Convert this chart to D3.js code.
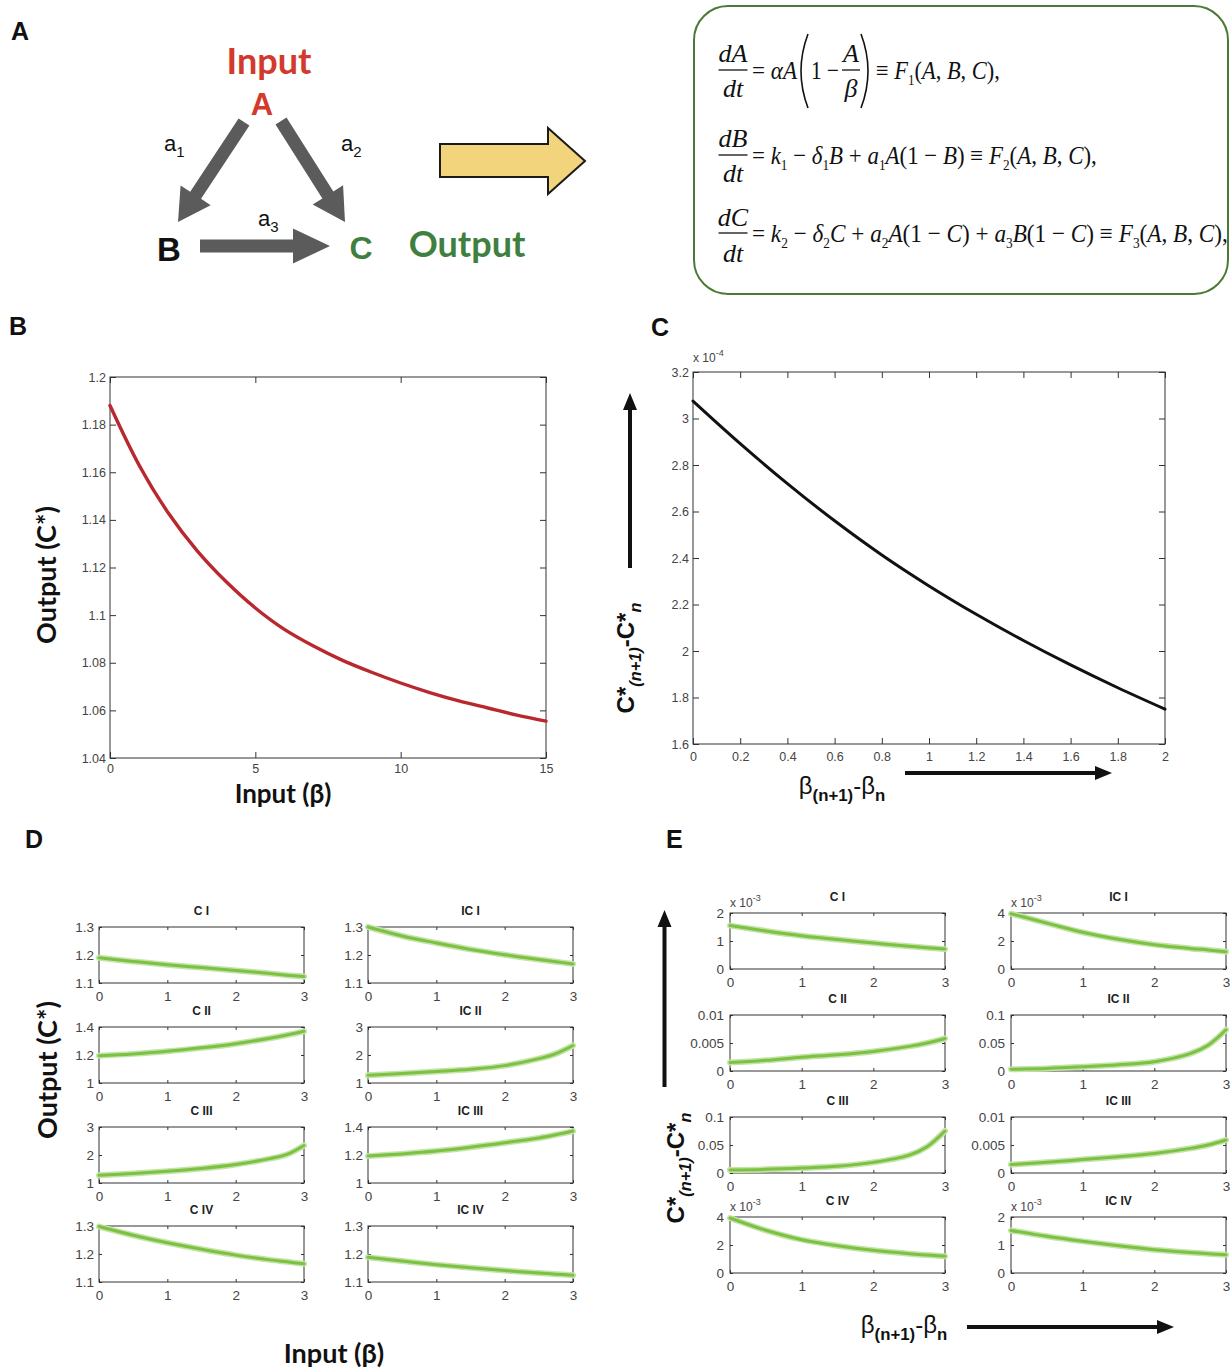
<!DOCTYPE html>
<html lang="en">
<head>
<meta charset="UTF-8">
<title>Input-output response of the feed-forward loop</title>
<script src="https://d3js.org/d3.v7.min.js"></script>
<style>
  body { margin: 0; background: #fff; }
  svg { display: block; }
  .tick-label { font-family: "Liberation Sans", Arial, sans-serif; font-size: 13px; fill: #444; }
  .panel-letter { font-family: "Liberation Sans", Arial, sans-serif; font-weight: bold; font-size: 25px; fill: #111; }
  .axis-title { font-family: Lato, "Open Sans", sans-serif; font-weight: bold; font-size: 27px; fill: #111; }
  .sym-title { font-family: "Liberation Sans", Arial, sans-serif; font-weight: bold; font-size: 24px; fill: #111; }
  .sub-title { font-family: "Liberation Sans", Arial, sans-serif; font-weight: bold; font-size: 12px; fill: #222; }
  .expo { font-family: "Liberation Sans", Arial, sans-serif; font-size: 12px; fill: #444; }
  .eq { font-family: "Liberation Serif", "Times New Roman", serif; font-style: italic; font-size: 26px; fill: #111; }
</style>
</head>
<body>
<svg id="fig" width="1231" height="1370"></svg>
<script>
// ---------- data ----------
// panel B: steady-state output vs input
const bBeta = [0, 1, 2, 3, 4, 5, 6, 7, 8, 9, 10, 11, 12, 13, 14, 15];
const bOut = [1.188, 1.163, 1.143, 1.127, 1.114, 1.103, 1.094, 1.087, 1.081, 1.076, 1.0715, 1.0675, 1.064, 1.061, 1.058, 1.0555];
const bYTicks = [1.04, 1.06, 1.08, 1.1, 1.12, 1.14, 1.16, 1.18, 1.2];
const bYLabels = ["1.04", "1.06", "1.08", "1.1", "1.12", "1.14", "1.16", "1.18", "1.2"];
const bXTicks = [0, 5, 10, 15];

// panel C: sensitivity (x 10^-4)
const cStep = [0, 0.2, 0.4, 0.6, 0.8, 1, 1.2, 1.4, 1.6, 1.8, 2];
const cDiff = [3.075, 2.892, 2.72, 2.56, 2.413, 2.28, 2.158, 2.045, 1.94, 1.842, 1.75];
const cYTicks = [1.6, 1.8, 2, 2.2, 2.4, 2.6, 2.8, 3, 3.2];
const cYLabels = ["1.6", "1.8", "2", "2.2", "2.4", "2.6", "2.8", "3", "3.2"];
const cXTicks = [0, 0.2, 0.4, 0.6, 0.8, 1, 1.2, 1.4, 1.6, 1.8, 2];
const cXLabels = ["0", "0.2", "0.4", "0.6", "0.8", "1", "1.2", "1.4", "1.6", "1.8", "2"];

// panels D / E: eight loop types
const loopNames = ["C I", "IC I", "C II", "IC II", "C III", "IC III", "C IV", "IC IV"];
const subX = [0, 0.5, 1, 1.5, 2, 2.5, 2.75, 3];
const subXTicks = [0, 1, 2, 3];

const dCI   = [1.190, 1.177, 1.165, 1.155, 1.145, 1.134, 1.128, 1.123];
const dICI  = [1.300, 1.268, 1.243, 1.220, 1.201, 1.184, 1.176, 1.168];
const dCII  = [1.195, 1.208, 1.226, 1.251, 1.281, 1.320, 1.343, 1.369];
const dICII = [1.275, 1.34, 1.41, 1.49, 1.62, 1.87, 2.05, 2.34];
const dCIII = [1.275, 1.34, 1.42, 1.52, 1.66, 1.87, 2.02, 2.34];
const dICIII = [1.192, 1.208, 1.228, 1.255, 1.287, 1.322, 1.345, 1.371];
const dCIV  = [1.298, 1.267, 1.240, 1.217, 1.196, 1.179, 1.172, 1.165];
const dICIV = [1.188, 1.175, 1.162, 1.151, 1.141, 1.132, 1.128, 1.124];

const eCI   = [1.55, 1.36, 1.19, 1.05, 0.93, 0.81, 0.76, 0.71];      // x 10^-3
const eICI  = [3.95, 3.28, 2.62, 2.12, 1.74, 1.47, 1.36, 1.24];      // x 10^-3
const eCII  = [0.00153, 0.0019, 0.00245, 0.0029, 0.0035, 0.0044, 0.005, 0.0058];
const eICII = [0.003, 0.0045, 0.0074, 0.011, 0.0166, 0.031, 0.046, 0.0736];
const eCIII = [0.0055, 0.0065, 0.0088, 0.012, 0.019, 0.032, 0.047, 0.075];
const eICIII = [0.0015, 0.0019, 0.0024, 0.0029, 0.0035, 0.0044, 0.005, 0.0059];
const eCIV  = [3.93, 3.05, 2.38, 1.95, 1.62, 1.38, 1.28, 1.19];      // x 10^-3
const eICIV = [1.52, 1.31, 1.13, 0.97, 0.83, 0.73, 0.69, 0.65];      // x 10^-3

// y axis tick sets for the small panels
const dTicks = {
  "C I": [[1.1, 1.2, 1.3], ["1.1", "1.2", "1.3"]],
  "IC I": [[1.1, 1.2, 1.3], ["1.1", "1.2", "1.3"]],
  "C II": [[1, 1.2, 1.4], ["1", "1.2", "1.4"]],
  "IC II": [[1, 2, 3], ["1", "2", "3"]],
  "C III": [[1, 2, 3], ["1", "2", "3"]],
  "IC III": [[1, 1.2, 1.4], ["1", "1.2", "1.4"]],
  "C IV": [[1.1, 1.2, 1.3], ["1.1", "1.2", "1.3"]],
  "IC IV": [[1.1, 1.2, 1.3], ["1.1", "1.2", "1.3"]]
};
const eTicks = {
  "C I": [[0, 1, 2], ["0", "1", "2"], "-3"],
  "IC I": [[0, 2, 4], ["0", "2", "4"], "-3"],
  "C II": [[0, 0.005, 0.01], ["0", "0.005", "0.01"], null],
  "IC II": [[0, 0.05, 0.1], ["0", "0.05", "0.1"], null],
  "C III": [[0, 0.05, 0.1], ["0", "0.05", "0.1"], null],
  "IC III": [[0, 0.005, 0.01], ["0", "0.005", "0.01"], null],
  "C IV": [[0, 2, 4], ["0", "2", "4"], "-3"],
  "IC IV": [[0, 1, 2], ["0", "1", "2"], "-3"]
};
const dSeries = [dCI, dICI, dCII, dICII, dCIII, dICIII, dCIV, dICIV];
const eSeries = [eCI, eICI, eCII, eICII, eCIII, eICIII, eCIV, eICIV];

const RED = "#b8282e", GREEN_TXT = "#3f8040", LINE_GREEN = "#7cc142";

const svg = d3.select("#fig");
svg.append("rect").attr("width", 1231).attr("height", 1370).attr("fill", "#fff");

// ---------- helpers ----------
function plot(cfg) {
  const x = d3.scaleLinear().domain(cfg.xDomain).range([cfg.left, cfg.left + cfg.w]);
  const y = d3.scaleLinear().domain(cfg.yDomain).range([cfg.top + cfg.h, cfg.top]);
  const g = svg.append("g").attr("color", "#333");
  const tl = cfg.tick;
  g.append("g").attr("transform", `translate(0,${cfg.top + cfg.h})`)
    .call(d3.axisBottom(x).tickValues(cfg.xTicks).tickSize(-tl).tickPadding(cfg.padX)
      .tickFormat((d, i) => cfg.xLabels[i]));
  g.append("g").attr("transform", `translate(0,${cfg.top})`)
    .call(d3.axisTop(x).tickValues(cfg.xTicks).tickSize(-tl).tickFormat(""));
  g.append("g").attr("transform", `translate(${cfg.left},0)`)
    .call(d3.axisLeft(y).tickValues(cfg.yTicks).tickSize(-tl).tickPadding(cfg.padY)
      .tickFormat((d, i) => cfg.yLabels[i]));
  g.append("g").attr("transform", `translate(${cfg.left + cfg.w},0)`)
    .call(d3.axisRight(y).tickValues(cfg.yTicks).tickSize(-tl).tickFormat(""));
  g.selectAll(".domain").remove();
  g.selectAll("text").attr("class", "tick-label").style("font-size", cfg.fontSize + "px");
  g.append("rect").attr("x", cfg.left).attr("y", cfg.top).attr("width", cfg.w).attr("height", cfg.h)
    .attr("fill", "none").attr("stroke", "#333").attr("stroke-width", 1);

  const pts = cfg.xs.map((v, i) => [v, cfg.ys[i]]);
  const line = d3.line().x(d => x(d[0])).y(d => y(d[1])).curve(d3.curveCatmullRom.alpha(0.5));
  if (cfg.halo) {
    g.append("path").datum(pts).attr("d", line).attr("fill", "none")
      .attr("stroke", cfg.halo).attr("stroke-width", cfg.width + 3).attr("stroke-linecap", "round");
  }
  g.append("path").datum(pts).attr("d", line).attr("fill", "none")
    .attr("stroke", cfg.color).attr("stroke-width", cfg.width).attr("stroke-linecap", "round");

  if (cfg.title) {
    g.append("text").attr("class", "sub-title").attr("x", cfg.left + cfg.w / 2).attr("y", cfg.top - 12)
      .attr("text-anchor", "middle").text(cfg.title);
  }
  if (cfg.expo) {
    const t = g.append("text").attr("class", "expo").attr("x", cfg.left).attr("y", cfg.top - cfg.expoGap);
    t.append("tspan").text("x 10");
    t.append("tspan").attr("dy", -6).style("font-size", "9px").text(cfg.expo);
  }
  return { x, y };
}

function blockArrow(x1, y1, x2, y2, shaft, head, headLen, fill, stroke) {
  const dx = x2 - x1, dy = y2 - y1, L = Math.hypot(dx, dy);
  const ux = dx / L, uy = dy / L, nx = -uy, ny = ux;
  const bx = x2 - ux * headLen, by = y2 - uy * headLen;
  const p = [
    [x1 + nx * shaft / 2, y1 + ny * shaft / 2],
    [bx + nx * shaft / 2, by + ny * shaft / 2],
    [bx + nx * head / 2, by + ny * head / 2],
    [x2, y2],
    [bx - nx * head / 2, by - ny * head / 2],
    [bx - nx * shaft / 2, by - ny * shaft / 2],
    [x1 - nx * shaft / 2, y1 - ny * shaft / 2]
  ];
  svg.append("polygon").attr("points", p.map(d => d.join(",")).join(" "))
    .attr("fill", fill).attr("stroke", stroke || "none").attr("stroke-width", stroke ? 2 : 0)
    .attr("stroke-linejoin", "miter");
}

// rich text: parts = [text, flags] ; flags may include "sub", "r" (roman), "i" (italic), "n" (normal weight)
function rich(sel, parts, subSize, shiftAmt) {
  let shift = 0;
  parts.forEach(([s, f = ""]) => {
    const ts = sel.append("tspan").text(s);
    const want = f.includes("sub") ? shiftAmt : 0;
    if (want !== shift) { ts.attr("dy", want - shift); shift = want; }
    if (f.includes("sub")) ts.style("font-size", subSize + "px");
    if (f.includes("r")) ts.style("font-style", "normal");
    if (f.includes("i")) ts.style("font-style", "italic");
    if (f.includes("n")) ts.style("font-weight", "normal");
  });
  return sel;
}

function fitWidth(t, x0, target) {
  const w = t.node().getComputedTextLength();
  t.attr("transform", `translate(${x0},0) scale(${target / w},1) translate(${-x0},0)`);
}

// ---------- panel letters ----------
[["A", 11, 40], ["B", 9, 335], ["C", 651, 336], ["D", 25, 848], ["E", 666, 848]].forEach(([s, x, y]) => {
  svg.append("text").attr("class", "panel-letter").attr("x", x).attr("y", y).text(s);
});

// ---------- panel A: diagram ----------
svg.append("text").attr("class", "axis-title").attr("x", 269).attr("y", 74).attr("text-anchor", "middle")
  .style("font-size", "36px").style("fill", "#d13a2c").text("Input");
svg.append("text").attr("class", "sym-title").attr("x", 262).attr("y", 115).attr("text-anchor", "middle")
  .style("font-size", "31px").style("fill", "#d13a2c").text("A");
svg.append("text").attr("class", "sym-title").attr("x", 169).attr("y", 261).attr("text-anchor", "middle")
  .style("font-size", "33px").text("B");
svg.append("text").attr("class", "sym-title").attr("x", 361).attr("y", 259).attr("text-anchor", "middle")
  .style("font-size", "32px").style("fill", GREEN_TXT).text("C");
svg.append("text").attr("class", "axis-title").attr("x", 467).attr("y", 257).attr("text-anchor", "middle")
  .style("font-size", "36px").style("fill", GREEN_TXT).text("Output");

blockArrow(244, 122, 178, 222, 13, 36, 32, "#5b5b5b");
blockArrow(281, 121, 345, 222, 13, 36, 32, "#5b5b5b");
blockArrow(200, 246, 330, 246, 13, 35, 37, "#5b5b5b");

[["a", "1", 164, 151], ["a", "2", 341, 151], ["a", "3", 258, 226]].forEach(([a, n, x, y]) => {
  const t = svg.append("text").attr("x", x).attr("y", y)
    .style("font-family", "'Liberation Sans', Arial, sans-serif").style("font-size", "22px").style("fill", "#111");
  t.append("tspan").text(a);
  t.append("tspan").attr("dy", 6).style("font-size", "15px").text(n);
});

// yellow block arrow
svg.append("polygon")
  .attr("points", [[440, 144], [548, 144], [548, 128], [585, 161], [548, 194], [548, 177], [440, 177]].map(d => d.join(",")).join(" "))
  .attr("fill", "#f1d47c").attr("stroke", "#1a1a1a").attr("stroke-width", 2);

// equations box
svg.append("rect").attr("x", 694).attr("y", 6).attr("width", 534).attr("height", 288).attr("rx", 34)
  .attr("fill", "#fff").attr("stroke", "#4b7a34").attr("stroke-width", 2);

function frac(cx, top, bar, bottom, num, den, w) {
  svg.append("text").attr("class", "eq").attr("x", cx).attr("y", top).attr("text-anchor", "middle").text(num);
  svg.append("line").attr("x1", cx - w / 2).attr("x2", cx + w / 2).attr("y1", bar).attr("y2", bar)
    .attr("stroke", "#111").attr("stroke-width", 1.3);
  svg.append("text").attr("class", "eq").attr("x", cx).attr("y", bottom).attr("text-anchor", "middle").text(den);
}
frac(733, 62, 70, 97, "dA", "dt", 29);
frac(733, 147, 155, 182, "dB", "dt", 29);
frac(733, 226, 233, 262, "dC", "dt", 29);

// line 1
const l1a = rich(svg.append("text").attr("class", "eq").attr("x", 752).attr("y", 79),
  [["= ", "r"], ["αA"]], 15, 6);
fitWidth(l1a, 752, 45);
svg.append("path").attr("d", "M808,34 Q794,71 808,108").attr("fill", "none").attr("stroke", "#111").attr("stroke-width", 1.6);
const l1b = svg.append("text").attr("class", "eq").attr("x", 811).attr("y", 79).style("font-style", "normal").text("1 −");
fitWidth(l1b, 811, 28);
frac(851, 62, 70, 97, "A", "β", 18);
svg.append("path").attr("d", "M861,34 Q875,71 861,108").attr("fill", "none").attr("stroke", "#111").attr("stroke-width", 1.6);
const l1c = rich(svg.append("text").attr("class", "eq").attr("x", 876).attr("y", 79),
  [["≡ ", "r"], ["F"], ["1", "sub r"], ["(", "r"], ["A"], [", ", "r"], ["B"], [", ", "r"], ["C"], ["),", "r"]], 15, 6);
fitWidth(l1c, 876, 124);

// line 2
const l2 = rich(svg.append("text").attr("class", "eq").attr("x", 752).attr("y", 164),
  [["= ", "r"], ["k"], ["1", "sub r"], [" − ", "r"], ["δ"], ["1", "sub r"], ["B"], [" + ", "r"], ["a"], ["1", "sub r"],
   ["A"], ["(1 − ", "r"], ["B"], [") ≡ ", "r"], ["F"], ["2", "sub r"], ["(", "r"], ["A"], [", ", "r"], ["B"], [", ", "r"], ["C"], ["),", "r"]], 15, 6);
fitWidth(l2, 752, 345);

// line 3
const l3 = rich(svg.append("text").attr("class", "eq").attr("x", 752).attr("y", 242),
  [["= ", "r"], ["k"], ["2", "sub r"], [" − ", "r"], ["δ"], ["2", "sub r"], ["C"], [" + ", "r"], ["a"], ["2", "sub r"],
   ["A"], ["(1 − ", "r"], ["C"], [") + ", "r"], ["a"], ["3", "sub r"], ["B"], ["(1 − ", "r"], ["C"], [") ≡ ", "r"],
   ["F"], ["3", "sub r"], ["(", "r"], ["A"], [", ", "r"], ["B"], [", ", "r"], ["C"], ["),", "r"]], 15, 6);
fitWidth(l3, 752, 476);

// ---------- panel B ----------
plot({
  left: 110, top: 377, w: 436, h: 381,
  xDomain: [0, 15], yDomain: [1.04, 1.2],
  xTicks: bXTicks, xLabels: bXTicks.map(String), yTicks: bYTicks, yLabels: bYLabels,
  tick: 6, padX: 6, padY: 4, fontSize: 12.5,
  xs: bBeta, ys: bOut, color: RED, width: 3.4
});
svg.append("text").attr("class", "axis-title").attr("transform", "translate(56,575) rotate(-90)")
  .attr("text-anchor", "middle").text("Output (C*)");
svg.append("text").attr("class", "axis-title").attr("x", 283).attr("y", 803)
  .attr("text-anchor", "middle").style("font-size", "26px").text("Input (β)");

// ---------- panel C ----------
plot({
  left: 693, top: 372, w: 472, h: 372,
  xDomain: [0, 2], yDomain: [1.6, 3.2],
  xTicks: cXTicks, xLabels: cXLabels, yTicks: cYTicks, yLabels: cYLabels,
  tick: 6, padX: 8, padY: 4, fontSize: 12.5,
  xs: cStep, ys: cDiff, color: "#111", width: 3,
  expo: "-4", expoGap: 10
});

function diffLabel(tx, ty, size) {
  const t = svg.append("text").attr("class", "sym-title").attr("transform", `translate(${tx},${ty}) rotate(-90)`)
    .attr("text-anchor", "middle").style("font-size", size + "px");
  rich(t, [["C*"], ["(n+1)", "sub i"], ["-"], ["C*"], ["n", "sub i"]], size * 0.68, 7);
}
function betaLabel(tx, ty, size) {
  const t = svg.append("text").attr("class", "sym-title").attr("x", tx).attr("y", ty)
    .attr("text-anchor", "middle").style("font-size", size + "px");
  rich(t, [["β", "n"], ["(n+1)", "sub"], ["-", "n"], ["β", "n"], ["n", "sub"]], size * 0.7, 7);
}
function lineArrow(x1, y1, x2, y2) {
  blockArrow(x1, y1, x2, y2, 4, 14, 17, "#111");
}
diffLabel(634, 658, 24);
lineArrow(630, 568, 630, 393);
betaLabel(842, 794, 24);
lineArrow(905, 773, 1112, 773);

// ---------- panel D ----------
const dCols = [99, 368], dRows = [927, 1027, 1127, 1226];
loopNames.forEach((name, i) => {
  const [yt, yl] = dTicks[name];
  plot({
    left: dCols[i % 2], top: dRows[Math.floor(i / 2)], w: 205, h: 56,
    xDomain: [0, 3], yDomain: [yt[0], yt[yt.length - 1]],
    xTicks: subXTicks, xLabels: subXTicks.map(String), yTicks: yt, yLabels: yl,
    tick: 3, padX: 8, padY: 5, fontSize: 13.5,
    xs: subX, ys: dSeries[i], color: LINE_GREEN, halo: "#c4e3a8", width: 3,
    title: name
  });
});
svg.append("text").attr("class", "axis-title").attr("transform", "translate(57,1070) rotate(-90)")
  .attr("text-anchor", "middle").text("Output (C*)");
svg.append("text").attr("class", "axis-title").attr("x", 334).attr("y", 1363)
  .attr("text-anchor", "middle").text("Input (β)");

// ---------- panel E ----------
const eCols = [730, 1011], eRows = [913, 1015, 1117, 1217];
loopNames.forEach((name, i) => {
  const [yt, yl, ex] = eTicks[name];
  plot({
    left: eCols[i % 2], top: eRows[Math.floor(i / 2)], w: 215, h: 56,
    xDomain: [0, 3], yDomain: [yt[0], yt[yt.length - 1]],
    xTicks: subXTicks, xLabels: subXTicks.map(String), yTicks: yt, yLabels: yl,
    tick: 3, padX: 8, padY: 6, fontSize: 13.5,
    xs: subX, ys: eSeries[i], color: LINE_GREEN, halo: "#c4e3a8", width: 3,
    title: name, expo: ex, expoGap: 6
  });
});
diffLabel(684, 1168, 24);
lineArrow(664.5, 1087, 664.5, 910);
betaLabel(904, 1333, 24);
lineArrow(967, 1327, 1174, 1327);
</script>
</body>
</html>
